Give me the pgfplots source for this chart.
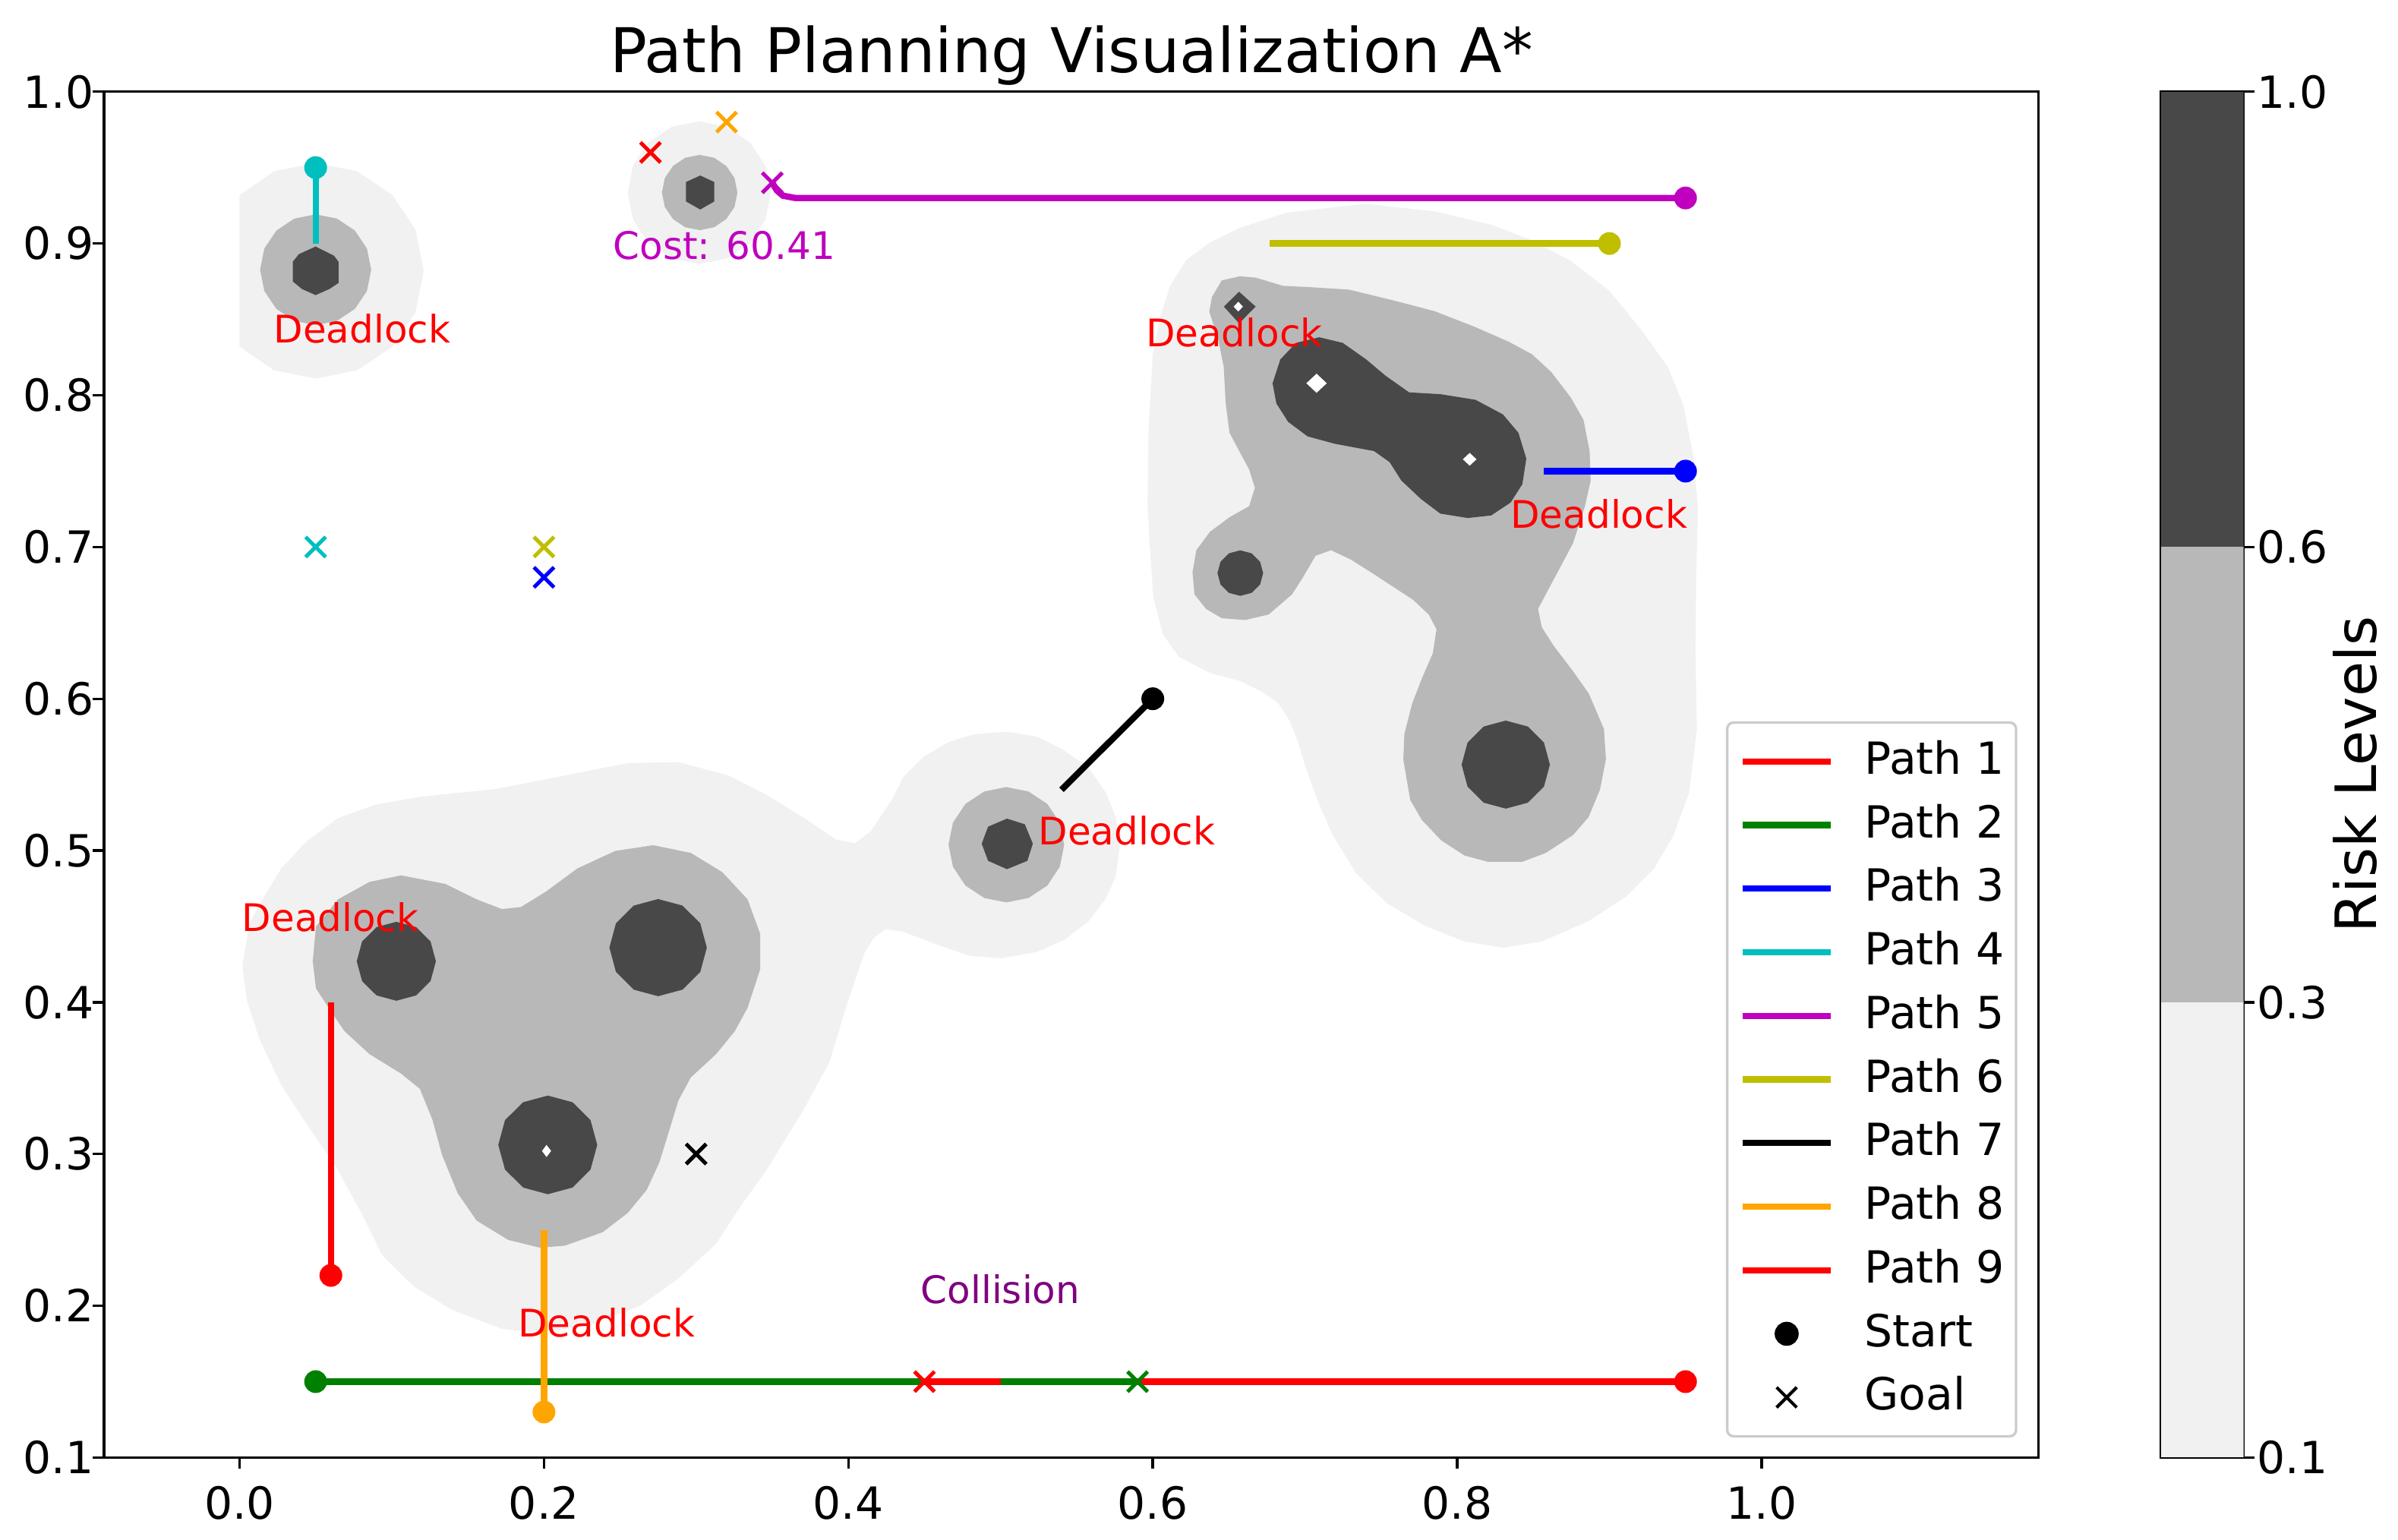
\documentclass[border=0pt]{standalone}
\usepackage{fontspec}
\setmainfont{DejaVu Sans}
\usepackage{pgfplots}
\pgfplotsset{compat=1.18}

\definecolor{lev1}{RGB}{241,241,241}
\definecolor{lev2}{RGB}{184,184,184}
\definecolor{lev3}{RGB}{72,72,72}
\definecolor{mplg}{RGB}{0,128,0}
\definecolor{mplc}{RGB}{0,191,191}
\definecolor{mplm}{RGB}{191,0,191}
\definecolor{mply}{RGB}{191,191,0}
\definecolor{mplorange}{RGB}{255,165,0}
\definecolor{mplpurple}{RGB}{128,0,128}

\pgfplotsset{
  lvl1/.style={fill=lev1, draw=none, forget plot},
  lvl2/.style={fill=lev2, draw=none, forget plot},
  lvl3/.style={fill=lev3, draw=none, forget plot},
  hole/.style={fill=white, draw=none, forget plot},
  pline/.style={line width=2pt, forget plot},
  startmk/.style={only marks, mark=*, mark size=3.4pt, mark options={solid, line width=0.4pt}, forget plot},
  goalmk/.style={only marks, mark=x, mark size=4.5pt, mark options={line width=1.2pt}, forget plot},
}

\begin{document}
\begin{tikzpicture}
\begin{axis}[
  at={(0pt,0pt)}, anchor=south west,
  width=611.5pt, height=431.7pt, scale only axis,
  clip mode=individual,
  xmin=-0.089, xmax=1.182, ymin=0.1, ymax=1.0,
  xtick={0,0.2,0.4,0.6,0.8,1.0},
  xticklabels={0.0,0.2,0.4,0.6,0.8,1.0},
  ytick={0.1,0.2,0.3,0.4,0.5,0.6,0.7,0.8,0.9,1.0},
  yticklabels={0.1,0.2,0.3,0.4,0.5,0.6,0.7,0.8,0.9,1.0},
  tick align=outside, xtick pos=bottom, ytick pos=left,
  major tick length=3.5pt,
  major tick style={black, line width=0.8pt},
  axis line style={line width=0.8pt},
  tick label style={font=\fontsize{14}{16}\selectfont},
  xticklabel style={inner sep=0pt},
  yticklabel style={inner sep=0pt},
  xticklabel shift=5.5pt, yticklabel shift=-0.4pt,
  legend image code/.code={\draw[mark repeat=2,mark phase=2,#1] plot coordinates {(0pt,0pt) (14pt,0pt) (28pt,0pt)};},
  legend style={at={(rel axis cs:0.989,0.0146)}, anchor=south east,
    draw=black!20, line width=0.8pt, rounded corners=2pt,
    fill=white, fill opacity=0.8, draw opacity=1, text opacity=1,
    font=\fontsize{14}{16}\selectfont,
    inner xsep=3.8pt, inner ysep=5.8pt, row sep=7.1pt, column sep=9.6pt,
    nodes={inner sep=0pt, text height=10.5pt, text depth=2.5pt},
    cells={anchor=west}},
]
% ---- risk contours, level 0.1-0.3
\addplot[lvl1] coordinates {(0.121,0.882) (0.1156,0.9092) (0.1002,0.9322) (0.0772,0.9476) (0.05,0.953) (0.0228,0.9476) (0.0,0.932) (0.0,0.832) (0.0228,0.8164) (0.05,0.811) (0.0772,0.8164) (0.1002,0.8318) (0.1156,0.8548)};
\addplot[lvl1] coordinates {(0.349,0.9335) (0.3454,0.9515) (0.3352,0.9667) (0.3200,0.9769) (0.302,0.9805) (0.284,0.9769) (0.2688,0.9667) (0.2586,0.9515) (0.255,0.9335) (0.2586,0.9155) (0.2688,0.9003) (0.284,0.8901) (0.302,0.8865) (0.320,0.8901) (0.3352,0.9003) (0.3454,0.9155)};
\addplot[lvl1] coordinates {(0.0018,0.4244) (0.0067,0.4525) (0.0150,0.4678) (0.0274,0.4882) (0.0440,0.5060) (0.0647,0.5213) (0.0895,0.5303) (0.1185,0.5354) (0.1682,0.5405) (0.2137,0.5494) (0.2551,0.5576) (0.2883,0.5583) (0.3214,0.5494) (0.3462,0.5367) (0.3711,0.5213) (0.3918,0.5073) (0.4042,0.5048) (0.4145,0.5124) (0.4290,0.5341) (0.4361,0.5484) (0.4493,0.5617) (0.4660,0.5716) (0.4826,0.5766) (0.5042,0.5783) (0.5242,0.5749) (0.5408,0.5666) (0.5575,0.5549) (0.5691,0.5382) (0.5758,0.5216) (0.5783,0.5032) (0.5758,0.4832) (0.5691,0.4682) (0.5575,0.4532) (0.5425,0.4415) (0.5242,0.4332) (0.5001,0.4290) (0.4793,0.4307) (0.4577,0.4382) (0.4361,0.4465) (0.4244,0.4482) (0.4166,0.4423) (0.4104,0.4321) (0.4000,0.4015) (0.3876,0.3607) (0.3711,0.3301) (0.3462,0.2893) (0.3297,0.2664) (0.3131,0.2409) (0.2883,0.2179) (0.2634,0.2001) (0.2303,0.1873) (0.1972,0.1822) (0.1723,0.1848) (0.1392,0.1975) (0.1144,0.2128) (0.0937,0.2332) (0.0813,0.2587) (0.0647,0.2893) (0.0440,0.3199) (0.0274,0.3454) (0.0130,0.3760) (0.0047,0.4015)};
\addplot[lvl1] coordinates {(0.7392,0.9262) (0.7851,0.9212) (0.8234,0.9121) (0.8490,0.9021) (0.8745,0.8887) (0.9001,0.8687) (0.9205,0.8437) (0.9384,0.8187) (0.9486,0.7937) (0.9550,0.7604) (0.9582,0.7269) (0.9570,0.6785) (0.9565,0.6301) (0.9575,0.5801) (0.9524,0.5384) (0.9422,0.5101) (0.9295,0.4884) (0.9117,0.4701) (0.8862,0.4534) (0.8557,0.4401) (0.8302,0.4359) (0.8047,0.4401) (0.7793,0.4501) (0.7539,0.4651) (0.7335,0.4851) (0.7182,0.5101) (0.7081,0.5334) (0.7004,0.5551) (0.6953,0.5718) (0.6902,0.5851) (0.6826,0.5968) (0.6724,0.6043) (0.6571,0.6118) (0.6376,0.6170) (0.6171,0.6277) (0.6068,0.6422) (0.6004,0.6664) (0.5979,0.7027) (0.5966,0.7269) (0.5971,0.7753) (0.6000,0.8271) (0.6051,0.8521) (0.6114,0.8721) (0.6217,0.8887) (0.6370,0.9004) (0.6574,0.9104) (0.6881,0.9204)};
% ---- level 0.3-0.6
\addplot[lvl2] coordinates {(0.0865,0.8827) (0.0837,0.8967) (0.0758,0.9085) (0.0640,0.9164) (0.05,0.9192) (0.0360,0.9164) (0.0242,0.9085) (0.0163,0.8967) (0.0135,0.8827) (0.0163,0.8687) (0.0242,0.8569) (0.0360,0.8490) (0.05,0.8462) (0.0640,0.8490) (0.0758,0.8569) (0.0837,0.8687)};
\addplot[lvl2] coordinates {(0.3271,0.9336) (0.3252,0.9431) (0.3198,0.9511) (0.3118,0.9565) (0.3023,0.9584) (0.2928,0.9565) (0.2848,0.9511) (0.2794,0.9431) (0.2775,0.9336) (0.2794,0.9241) (0.2848,0.9161) (0.2928,0.9107) (0.3023,0.9088) (0.3118,0.9107) (0.3198,0.9161) (0.3252,0.9241)};
\addplot[lvl2] coordinates {(0.5418,0.5038) (0.5389,0.5183) (0.5307,0.5307) (0.5183,0.5389) (0.5038,0.5418) (0.4893,0.5389) (0.4769,0.5307) (0.4687,0.5183) (0.4658,0.5038) (0.4687,0.4893) (0.4769,0.4769) (0.4893,0.4687) (0.5038,0.4658) (0.5183,0.4687) (0.5307,0.4769) (0.5389,0.4893)};
\addplot[lvl2] coordinates {(0.0481,0.4270) (0.0502,0.4499) (0.0647,0.4678) (0.0854,0.4793) (0.1061,0.4836) (0.1351,0.4780) (0.1558,0.4678) (0.1724,0.4614) (0.1848,0.4627) (0.2013,0.4729) (0.2220,0.4882) (0.2468,0.4997) (0.2717,0.5035) (0.2965,0.4984) (0.3172,0.4857) (0.3338,0.4678) (0.3421,0.4449) (0.3421,0.4219) (0.3338,0.3964) (0.3255,0.3811) (0.3131,0.3658) (0.2965,0.3505) (0.2883,0.3352) (0.2821,0.3148) (0.2758,0.2944) (0.2676,0.2765) (0.2551,0.2612) (0.2386,0.2485) (0.2137,0.2396) (0.1972,0.2383) (0.1765,0.2434) (0.1558,0.2561) (0.1434,0.2740) (0.1330,0.2995) (0.1268,0.3224) (0.1185,0.3429) (0.1061,0.3530) (0.0854,0.3658) (0.0688,0.3811) (0.0585,0.3964) (0.0502,0.4092)};
\addplot[lvl2] coordinates {(0.6574,0.8784) (0.6676,0.8775) (0.6855,0.8721) (0.7034,0.8712) (0.7289,0.8696) (0.7596,0.8621) (0.7851,0.8554) (0.8107,0.8454) (0.8336,0.8354) (0.8490,0.8271) (0.8617,0.8154) (0.8745,0.7987) (0.8830,0.7837) (0.8870,0.7632) (0.8877,0.7438) (0.8839,0.7269) (0.8762,0.7027) (0.8659,0.6833) (0.8531,0.6592) (0.8556,0.6471) (0.8633,0.6350) (0.8762,0.6180) (0.8864,0.6035) (0.8964,0.5801) (0.8977,0.5601) (0.8938,0.5401) (0.8862,0.5218) (0.8760,0.5101) (0.8582,0.4984) (0.8429,0.4926) (0.8200,0.4926) (0.8048,0.4967) (0.7895,0.5067) (0.7768,0.5201) (0.7691,0.5334) (0.7646,0.5601) (0.7653,0.5768) (0.7704,0.5968) (0.7768,0.6134) (0.7840,0.6300) (0.7864,0.6458) (0.7813,0.6555) (0.7710,0.6652) (0.7453,0.6821) (0.7300,0.6918) (0.7171,0.6979) (0.7069,0.6942) (0.6992,0.6809) (0.6915,0.6688) (0.6761,0.6555) (0.6607,0.6519) (0.6453,0.6531) (0.6350,0.6592) (0.6274,0.6688) (0.6261,0.6833) (0.6286,0.6979) (0.6376,0.7100) (0.6504,0.7196) (0.6633,0.7269) (0.6671,0.7390) (0.6633,0.7511) (0.6581,0.7608) (0.6504,0.7753) (0.6479,0.7946) (0.6466,0.8188) (0.6427,0.8382) (0.6371,0.8551) (0.6389,0.8648) (0.6453,0.8757)};
% ---- level 0.6-1.0
\addplot[lvl3] coordinates {(0.050,0.898) (0.062,0.892) (0.065,0.888) (0.065,0.874) (0.059,0.870) (0.050,0.866) (0.041,0.870) (0.035,0.875) (0.035,0.888) (0.039,0.893)};
\addplot[lvl3] coordinates {(0.3027,0.9448) (0.3119,0.9405) (0.3119,0.9277) (0.3027,0.9224) (0.2933,0.9277) (0.2933,0.9405)};
\addplot[lvl3] coordinates {(0.5042,0.5210) (0.5159,0.5173) (0.5212,0.5045) (0.5176,0.4932) (0.5042,0.4877) (0.4918,0.4932) (0.4876,0.5045) (0.4918,0.5157)};
\addplot[lvl3] coordinates {(0.129,0.427) (0.1255,0.440) (0.116,0.4495) (0.103,0.453) (0.090,0.4495) (0.0805,0.440) (0.077,0.427) (0.0805,0.414) (0.090,0.4045) (0.103,0.401) (0.116,0.4045) (0.1255,0.414)};
\addplot[lvl3] coordinates {(0.307,0.436) (0.3027,0.452) (0.291,0.4637) (0.275,0.468) (0.259,0.4637) (0.2473,0.452) (0.243,0.436) (0.2473,0.420) (0.259,0.4083) (0.275,0.404) (0.291,0.4083) (0.3027,0.420)};
\addplot[lvl3] coordinates {(0.235,0.306) (0.2306,0.3223) (0.2188,0.3341) (0.2025,0.3385) (0.1863,0.3341) (0.1744,0.3223) (0.170,0.306) (0.1744,0.2898) (0.1863,0.2779) (0.2025,0.2735) (0.2188,0.2779) (0.2306,0.2898)};
\addplot[lvl3] coordinates {(0.6567,0.8682) (0.6676,0.8584) (0.6567,0.8474) (0.6467,0.8584)};
\addplot[lvl3] coordinates {(0.6787,0.8079) (0.6838,0.8236) (0.6941,0.8345) (0.7094,0.8382) (0.7248,0.8345) (0.7402,0.8236) (0.7530,0.8128) (0.7684,0.8019) (0.7889,0.8007) (0.8120,0.7970) (0.8300,0.7874) (0.8402,0.7753) (0.8454,0.7583) (0.8428,0.7414) (0.8351,0.7293) (0.8223,0.7208) (0.8069,0.7191) (0.7889,0.7220) (0.7761,0.7317) (0.7633,0.7438) (0.7556,0.7559) (0.7454,0.7632) (0.7197,0.7680) (0.7017,0.7729) (0.6889,0.7825) (0.6812,0.7946)};
\addplot[lvl3] coordinates {(0.6725,0.6828) (0.6705,0.6903) (0.665,0.6958) (0.6575,0.6978) (0.65,0.6958) (0.6445,0.6903) (0.6425,0.6828) (0.6445,0.6753) (0.65,0.6698) (0.6575,0.6678) (0.665,0.6698) (0.6705,0.6753)};
\addplot[lvl3] coordinates {(0.8609,0.5566) (0.857,0.5711) (0.8464,0.5817) (0.8319,0.5856) (0.8174,0.5817) (0.8068,0.5711) (0.8029,0.5566) (0.8068,0.5421) (0.8174,0.5315) (0.8319,0.5276) (0.8464,0.5315) (0.857,0.5421)};
% ---- above 1.0 (not filled)
\addplot[hole] coordinates {(0.2017,0.306) (0.2047,0.302) (0.2017,0.298) (0.1987,0.302)};
\addplot[hole] coordinates {(0.6562,0.8616) (0.6592,0.8584) (0.6562,0.8552) (0.6531,0.8584)};
\addplot[hole] coordinates {(0.7076,0.8142) (0.7143,0.8079) (0.7076,0.8016) (0.7009,0.8079)};
\addplot[hole] coordinates {(0.8082,0.7620) (0.8127,0.7578) (0.8082,0.7536) (0.8037,0.7578)};
% ---- paths
\addplot[pline, red] coordinates {(0.95,0.15) (0.45,0.15)};
\addplot[pline, mplg] coordinates {(0.05,0.15) (0.45,0.15)};
\addplot[pline, mplg] coordinates {(0.50,0.15) (0.59,0.15)};
\addplot[pline, blue] coordinates {(0.95,0.75) (0.857,0.75)};
\addplot[pline, mplc] coordinates {(0.05,0.95) (0.05,0.90)};
\addplot[pline, mplm] coordinates {(0.95,0.93) (0.365,0.93) (0.357,0.9315) (0.353,0.935) (0.35,0.94)};
\addplot[pline, mply] coordinates {(0.90,0.90) (0.677,0.90)};
\addplot[pline, black] coordinates {(0.60,0.60) (0.54,0.54)};
\addplot[pline, mplorange] coordinates {(0.20,0.13) (0.20,0.25)};
\addplot[pline, red] coordinates {(0.06,0.22) (0.06,0.40)};
% ---- start points
\addplot[startmk, red] coordinates {(0.95,0.15) (0.06,0.22)};
\addplot[startmk, mplg] coordinates {(0.05,0.15)};
\addplot[startmk, blue] coordinates {(0.95,0.75)};
\addplot[startmk, mplc] coordinates {(0.05,0.95)};
\addplot[startmk, mplm] coordinates {(0.95,0.93)};
\addplot[startmk, mply] coordinates {(0.90,0.90)};
\addplot[startmk, black] coordinates {(0.60,0.60)};
\addplot[startmk, mplorange] coordinates {(0.20,0.13)};
% ---- goals
\addplot[goalmk, red] coordinates {(0.45,0.15) (0.27,0.96)};
\addplot[goalmk, mplg] coordinates {(0.59,0.15)};
\addplot[goalmk, blue] coordinates {(0.20,0.68)};
\addplot[goalmk, mplc] coordinates {(0.05,0.70)};
\addplot[goalmk, mplm] coordinates {(0.35,0.94)};
\addplot[goalmk, mply] coordinates {(0.20,0.70)};
\addplot[goalmk, black] coordinates {(0.30,0.30)};
\addplot[goalmk, mplorange] coordinates {(0.32,0.98)};
% ---- annotations
\begin{scope}[font=\fontsize{12}{14}\selectfont]
\node[red] at (axis cs:0.0806,0.8439) {Deadlock};
\node[red] at (axis cs:0.6535,0.8413) {Deadlock};
\node[red] at (axis cs:0.8931,0.7216) {Deadlock};
\node[red] at (axis cs:0.5829,0.5133) {Deadlock};
\node[red] at (axis cs:0.0597,0.4561) {Deadlock};
\node[red] at (axis cs:0.2411,0.1888) {Deadlock};
\node[mplm] at (axis cs:0.3185,0.8987) {Cost: 60.41};
\node[mplpurple] at (axis cs:0.4999,0.2110) {Collision};
\end{scope}
\node[anchor=base, font=\fontsize{19.5}{23}\selectfont] at (rel axis cs:0.5,1) [yshift=6pt] {Path Planning Visualization A*};
% ---- legend
\addlegendimage{red, line width=2pt}\addlegendentry{Path 1}
\addlegendimage{mplg, line width=2pt}\addlegendentry{Path 2}
\addlegendimage{blue, line width=2pt}\addlegendentry{Path 3}
\addlegendimage{mplc, line width=2pt}\addlegendentry{Path 4}
\addlegendimage{mplm, line width=2pt}\addlegendentry{Path 5}
\addlegendimage{mply, line width=2pt}\addlegendentry{Path 6}
\addlegendimage{black, line width=2pt}\addlegendentry{Path 7}
\addlegendimage{mplorange, line width=2pt}\addlegendentry{Path 8}
\addlegendimage{red, line width=2pt}\addlegendentry{Path 9}
\addlegendimage{only marks, mark=*, black, mark size=3.4pt, fill opacity=1, draw opacity=1}\addlegendentry{Start}
\addlegendimage{only marks, mark=x, black, mark size=4.5pt, line width=1pt, draw opacity=1}\addlegendentry{Goal}
\end{axis}

% ---- colour bar
\begin{axis}[
  at={(650.2pt,0pt)}, anchor=south west,
  width=26.1pt, height=431.7pt, scale only axis,
  clip mode=individual,
  xmin=0, xmax=1, ymin=0, ymax=3,
  xtick=\empty,
  ytick={0,1,2,3}, yticklabels={0.1,0.3,0.6,1.0},
  ytick pos=right, yticklabel pos=right,
  tick align=outside, major tick length=3.5pt,
  major tick style={black, line width=0.8pt},
  axis line style={line width=0.8pt},
  tick label style={font=\fontsize{14}{16}\selectfont},
  yticklabel style={inner sep=0pt}, yticklabel shift=0.6pt,
]
\addplot[fill=lev1, draw=none] coordinates {(0,0) (1,0) (1,1) (0,1)};
\addplot[fill=lev2, draw=none] coordinates {(0,1) (1,1) (1,2) (0,2)};
\addplot[fill=lev3, draw=none] coordinates {(0,2) (1,2) (1,3) (0,3)};
\node[xshift=35.3pt, rotate=90, font=\fontsize{18}{22}\selectfont] at (rel axis cs:1,0.5) {Risk Levels};
\end{axis}
\pgfresetboundingbox
\path[use as bounding box] (-32.9pt,-25.9pt) rectangle (725.1pt,460.7pt);
\end{tikzpicture}
\end{document}
